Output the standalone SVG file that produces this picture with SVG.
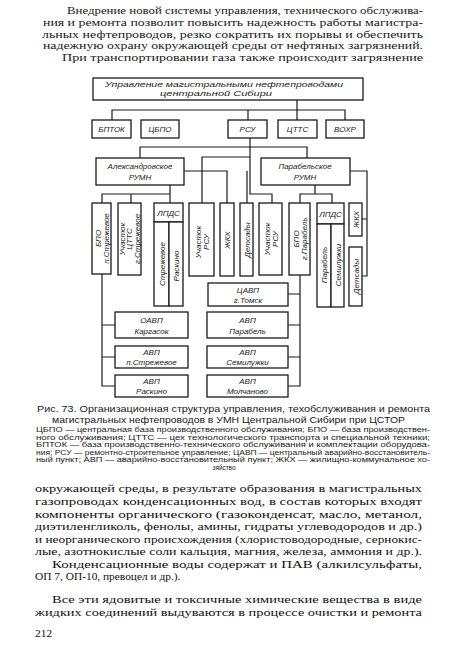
<svg xmlns="http://www.w3.org/2000/svg" width="450" height="667" viewBox="0 0 450 667">
<style>
.bg{fill:#fff}
.box{fill:#fff;stroke:#1a1a1a;stroke-width:1.3}
.ln{fill:none;stroke:#1a1a1a;stroke-width:1.2}
.lb{font-family:"Liberation Sans",Arial,sans-serif;font-style:italic;font-size:8px;fill:#1a1a1a;text-anchor:middle}
.body{font-family:"Liberation Serif","Times New Roman",serif;font-size:10.8px;fill:#1a1a1a}
.body2{font-family:"Liberation Serif","Times New Roman",serif;font-size:11.4px;fill:#111}
.cap{font-family:"Liberation Sans",Arial,sans-serif;font-size:9.6px;fill:#1a1a1a}
.leg{font-family:"Liberation Sans",Arial,sans-serif;font-size:6.4px;fill:#1a1a1a}
</style>
<rect class="bg" x="0" y="0" width="450" height="667"/>
<g id="text-top">
<text class="body" x="67" y="14" textLength="356" lengthAdjust="spacingAndGlyphs">Внедрение новой системы управления, технического обслужива-</text>
<text class="body" x="43" y="26" textLength="380" lengthAdjust="spacingAndGlyphs">ния и ремонта позволит повысить надежность работы магистра-</text>
<text class="body" x="42" y="37.5" textLength="381" lengthAdjust="spacingAndGlyphs">льных нефтепроводов, резко сократить их порывы и обеспечить</text>
<text class="body" x="43" y="49" textLength="380" lengthAdjust="spacingAndGlyphs">надежную охрану окружающей среды от нефтяных загрязнений.</text>
<text class="body" x="62" y="61" textLength="361" lengthAdjust="spacingAndGlyphs">При транспортировании газа также происходит загрязнение</text>
</g>
<g id="connectors">
<path class="ln" d="M297,100 V120 M112,120 V110 H345 V120 M248,110 V120"/>
<path class="ln" d="M250,138 V194 H272 V203 M140,158 V147 H307 V158 M250,157 H202 V203 M184,171 H227 V203 M247,171 V203"/>
<path class="ln" d="M170,185 V203 M170,194 H102 V203 M131,194 V203"/>
<path class="ln" d="M315,185 V194 M300,203 V194 H332 V203 M350,171 H367 V276 H362 M362,219 H367"/>
<path class="ln" d="M102,274 V386 H115 M102,325 H115 M102,357 H115"/>
<path class="ln" d="M300,275 V386 H288 M300,294 H288 M300,325 H288 M300,357 H288"/>
</g>
<g id="n-umn"><rect class="box" x="93" y="78" width="270" height="22"/>
<text class="lb" x="224" y="86.5" textLength="238" lengthAdjust="spacingAndGlyphs">Управление магистральными нефтепроводами</text>
<text class="lb" x="216" y="96" textLength="112" lengthAdjust="spacingAndGlyphs">центральной Сибири</text></g>
<g id="n-bptok"><rect class="box" x="92" y="120" width="39" height="18"/><text class="lb" x="111.5" y="132">БПТОК</text></g>
<g id="n-cbpo"><rect class="box" x="141" y="120" width="38" height="18"/><text class="lb" x="160" y="132">ЦБПО</text></g>
<g id="n-rsu"><rect class="box" x="228" y="120" width="39" height="18"/><text class="lb" x="247.5" y="132">РСУ</text></g>
<g id="n-ctts"><rect class="box" x="278" y="120" width="39" height="18"/><text class="lb" x="297.5" y="132">ЦТТС</text></g>
<g id="n-vohr"><rect class="box" x="326" y="120" width="38" height="18"/><text class="lb" x="345" y="132">ВОХР</text></g>
<g id="n-alex"><rect class="box" x="96" y="158" width="88" height="27"/>
<text class="lb" x="140" y="168.5">Александровское</text><text class="lb" x="140" y="180">РУМН</text></g>
<g id="n-parab"><rect class="box" x="261" y="158" width="89" height="27"/>
<text class="lb" x="305" y="168.5">Парабельское</text><text class="lb" x="305" y="180">РУМН</text></g>
<g id="n-bpo-str"><rect class="box" x="92" y="203" width="19" height="71"/>
<g transform="translate(101.5,238.5) rotate(-90)"><text class="lb" x="0" y="-1">БПО</text><text class="lb" x="0" y="7">п.Стрежевое</text></g></g>
<g id="n-ctts-str"><rect class="box" x="118" y="203" width="23" height="72"/>
<g transform="translate(129.5,239) rotate(-90)"><text class="lb" x="0" y="-5">Участок</text><text class="lb" x="0" y="2.5">ЦТТС</text><text class="lb" x="0" y="10">г.Стрежевое</text></g></g>
<g id="n-lpds-a"><rect class="box" x="154" y="203" width="29" height="19"/><text class="lb" x="168.5" y="215.5">ЛПДС</text>
<rect class="box" x="154" y="222" width="15" height="84"/><rect class="box" x="169" y="222" width="14" height="84"/>
<g transform="translate(161.5,264) rotate(-90)"><text class="lb" x="0" y="3">Стрежевое</text></g>
<g transform="translate(176,266) rotate(-90)"><text class="lb" x="0" y="3">Раскино</text></g></g>
<g id="n-rsu-a"><rect class="box" x="189" y="203" width="25" height="73"/>
<g transform="translate(201.5,242) rotate(-90)"><text class="lb" x="0" y="-1">Участок</text><text class="lb" x="0" y="7">РСУ</text></g></g>
<g id="n-zhkh-a"><rect class="box" x="220" y="203" width="14" height="73"/>
<g transform="translate(227,240) rotate(-90)"><text class="lb" x="0" y="3">ЖКХ</text></g></g>
<g id="n-det-a"><rect class="box" x="240" y="203" width="13" height="73"/>
<g transform="translate(246.5,240) rotate(-90)"><text class="lb" x="0" y="3">Детсады</text></g></g>
<g id="n-rsu-p"><rect class="box" x="259" y="203" width="23" height="72"/>
<g transform="translate(270.5,239) rotate(-90)"><text class="lb" x="0" y="-1">Участок</text><text class="lb" x="0" y="7">РСУ</text></g></g>
<g id="n-bpo-p"><rect class="box" x="289" y="203" width="21" height="72"/>
<g transform="translate(299.5,239) rotate(-90)"><text class="lb" x="0" y="-1">БПО</text><text class="lb" x="0" y="7">г.Парабель</text></g></g>
<g id="n-lpds-p"><rect class="box" x="317" y="203" width="27" height="21"/><text class="lb" x="330.5" y="216.5">ЛПДС</text>
<rect class="box" x="317" y="224" width="14" height="83"/><rect class="box" x="331" y="224" width="13" height="83"/>
<g transform="translate(324,265) rotate(-90)"><text class="lb" x="0" y="3">Парабель</text></g>
<g transform="translate(337.5,265) rotate(-90)"><text class="lb" x="0" y="3">Семилужки</text></g></g>
<g id="n-zhkh-p"><rect class="box" x="349" y="203" width="13" height="33"/>
<g transform="translate(355.5,219.5) rotate(-90)"><text class="lb" x="0" y="3">ЖКХ</text></g></g>
<g id="n-det-p"><rect class="box" x="349" y="247" width="13" height="59"/>
<g transform="translate(355.5,276.5) rotate(-90)"><text class="lb" x="0" y="3">Детсады</text></g></g>
<g id="n-cavp"><rect class="box" x="208" y="283" width="80" height="23"/><text class="lb" x="248" y="292.5">ЦАВП</text><text class="lb" x="248" y="303">г.Томск</text></g>
<g id="n-oavp"><rect class="box" x="115" y="312" width="73" height="26"/><text class="lb" x="151.5" y="323">ОАВП</text><text class="lb" x="151.5" y="334">Каргасок</text></g>
<g id="n-avp-str"><rect class="box" x="115" y="346" width="73" height="22"/><text class="lb" x="151.5" y="355">АВП</text><text class="lb" x="151.5" y="365">п.Стрежевое</text></g>
<g id="n-avp-ras"><rect class="box" x="115" y="375" width="73" height="22"/><text class="lb" x="151.5" y="384">АВП</text><text class="lb" x="151.5" y="394">Раскино</text></g>
<g id="n-avp-par"><rect class="box" x="207" y="312" width="81" height="26"/><text class="lb" x="247.5" y="323">АВП</text><text class="lb" x="247.5" y="334">Парабель</text></g>
<g id="n-avp-sem"><rect class="box" x="207" y="346" width="81" height="22"/><text class="lb" x="247.5" y="355">АВП</text><text class="lb" x="247.5" y="365">Семилужки</text></g>
<g id="n-avp-mol"><rect class="box" x="207" y="375" width="81" height="22"/><text class="lb" x="247.5" y="384">АВП</text><text class="lb" x="247.5" y="394">Молчаново</text></g>
<g id="caption">
<text class="cap" x="37" y="412" textLength="393" lengthAdjust="spacingAndGlyphs">Рис. 73. Организационная структура управления, техобслуживания и ремонта</text>
<text class="cap" x="52" y="423" textLength="353" lengthAdjust="spacingAndGlyphs">магистральных нефтепроводов в УМН Центральной Сибири при ЦСТОР</text>
<text class="leg" x="36" y="432" textLength="394" lengthAdjust="spacingAndGlyphs">ЦБПО — центральная база производственного обслуживания; БПО — база производствен-</text>
<text class="leg" x="36" y="439.5" textLength="394" lengthAdjust="spacingAndGlyphs">ного обслуживания; ЦТТС — цех технологического транспорта и специальной техники;</text>
<text class="leg" x="36" y="447" textLength="394" lengthAdjust="spacingAndGlyphs">БПТОК — база производственно-технического обслуживания и комплектации оборудова-</text>
<text class="leg" x="36" y="454.5" textLength="394" lengthAdjust="spacingAndGlyphs">ния; РСУ — ремонтно-строительное управление; ЦАВП — центральный аварийно-восстановитель-</text>
<text class="leg" x="36" y="462" textLength="394" lengthAdjust="spacingAndGlyphs">ный пункт; АВП — аварийно-восстановительный пункт; ЖКХ — жилищно-коммунальное хо-</text>
<text class="leg" x="224" y="469.5" text-anchor="middle">зяйство</text>
</g>
<g id="text-bottom">
<text class="body2" x="35" y="492" textLength="387" lengthAdjust="spacingAndGlyphs">окружающей среды, в результате образования в магистральных</text>
<text class="body2" x="35" y="505" textLength="387" lengthAdjust="spacingAndGlyphs">газопроводах конденсационных вод, в состав которых входят</text>
<text class="body2" x="35" y="517.5" textLength="387" lengthAdjust="spacingAndGlyphs">компоненты органического (газоконденсат, масло, метанол,</text>
<text class="body2" x="35" y="530" textLength="387" lengthAdjust="spacingAndGlyphs">диэтиленгликоль, фенолы, амины, гидраты углеводородов и др.)</text>
<text class="body2" x="35" y="542.5" textLength="387" lengthAdjust="spacingAndGlyphs">и неорганического происхождения (хлористоводородные, сернокис-</text>
<text class="body2" x="35" y="555" textLength="387" lengthAdjust="spacingAndGlyphs">лые, азотнокислые соли кальция, магния, железа, аммония и др.).</text>
<text class="body2" x="52" y="567.5" textLength="370" lengthAdjust="spacingAndGlyphs">Конденсационные воды содержат и ПАВ (алкилсульфаты,</text>
<text class="body2" x="35" y="580">ОП 7, ОП-10, превоцел и др.).</text>
<text class="body2" x="52" y="603" textLength="370" lengthAdjust="spacingAndGlyphs">Все эти ядовитые и токсичные химические вещества в виде</text>
<text class="body2" x="35" y="615.5" textLength="387" lengthAdjust="spacingAndGlyphs">жидких соединений выдуваются в процессе очистки и ремонта</text>
<text class="body2" x="35" y="637">212</text>
</g>
</svg>
